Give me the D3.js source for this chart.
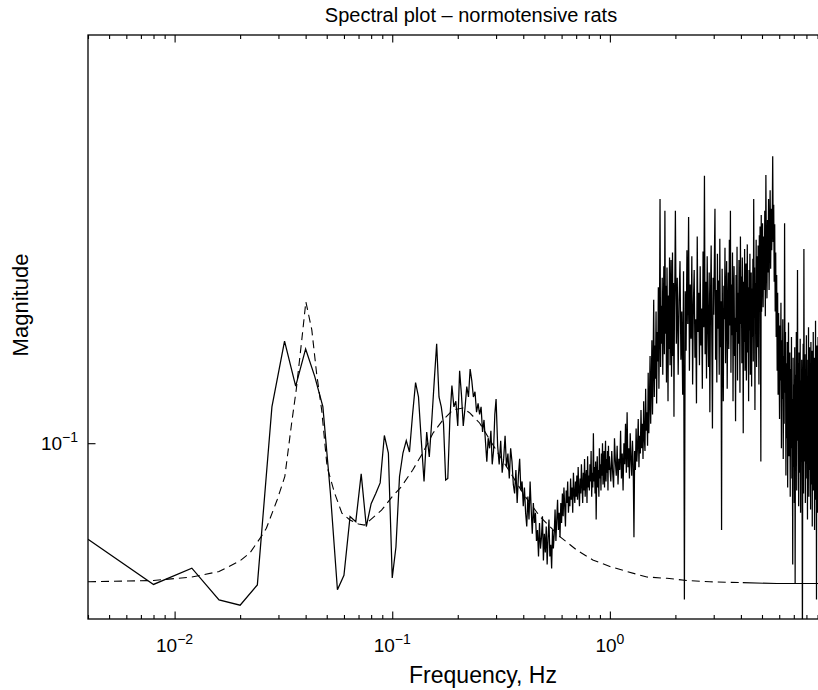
<!DOCTYPE html>
<html>
<head>
<meta charset="utf-8">
<script src="https://cdn.jsdelivr.net/npm/d3@7"></script>
<style>
  body { margin: 0; background: #fff; }
  svg { display: block; font-family: "Liberation Sans", Arial, Helvetica, sans-serif; }
</style>
</head>
<body>
<svg id="chart"></svg>
<script>
const W = 818, H = 690;

// measured spectrum, regular frequency grid in pieces (start Hz, step Hz, magnitudes)
const lowStart = 0.004, lowStep = 0.004;
const lowMag = [
  0.0685,0.0573,0.0611,0.0539,0.0528,0.0572,0.1154,0.1496,0.1252,0.1450,
  0.1303,0.1155,0.0820,0.0561,0.0594,0.0749,0.0734,0.0886,0.0720,0.0788,
  0.0820,0.0855,0.1031,0.0962,0.0588,0.0664,0.0877,0.0962,0.1010,0.0966,
  0.1120,0.1270,0.1200,0.1010,0.0860,0.1045,0.0947,0.1096,0.1280,0.1480,
  0.1200,0.1154,0.1080,0.0865,0.0870,0.1100,0.1255,0.1154,0.1180,0.1070,
  0.1330,0.1210,0.1070,0.1150,0.1250,0.1200,0.1340,0.1280,0.1200,0.1225,
  0.1130,0.1170,0.1120,0.1154,0.1045,0.1096,0.1010,0.0930,0.1020,0.0980,
  0.1050,0.0920,0.0970,0.1120,0.1190];
const midStart = 0.305, midStep = 0.005;
const midMag = [
  0.099,0.092,0.101,0.089,0.094,0.103,0.091,0.096,0.087,0.098,
  0.093,0.085,0.082,0.090,0.079,0.088,0.094,0.083,0.086,0.078,
  0.084,0.076,0.072,0.081,0.074,0.086,0.077,0.070,0.079,0.073,
  0.076,0.068,0.071,0.064,0.073,0.066,0.069,0.075,0.063,0.070,
  0.065,0.072,0.062,0.069,0.074,0.064,0.067,0.061,0.071,0.066,
  0.070,0.077,0.068,0.074,0.080,0.071,0.076,0.069,0.079,0.073,
  0.082,0.075,0.084,0.078,0.072,0.083,0.079,0.086,0.076,0.081,
  0.078,0.087,0.080,0.084,0.076,0.089,0.082,0.079,0.086,0.081,
  0.088,0.080,0.091,0.083,0.078,0.087,0.082,0.092,0.085,0.079,
  0.089,0.083,0.094,0.081,0.087,0.090,0.079,0.095,0.084,0.088,
  0.083,0.092,0.086,0.097,0.081,0.089,0.084,0.104,0.086,0.091,
  0.082,0.093,0.074,0.088,0.095,0.084,0.090,0.081,0.098,0.087,
  0.092,0.083,0.096,0.088,0.100,0.085,0.091,0.097,0.084,0.093,
  0.101,0.086,0.094,0.089,0.097,0.083,0.099,0.090,0.095];
const hiStart = 1.0, hiStep = 0.01;
const hiMag = [
  0.091,0.086,0.097,0.089,0.084,0.102,0.093,0.088,0.099,0.085,
  0.094,0.090,0.105,0.087,0.096,0.083,0.100,0.092,0.108,0.089,
  0.113,0.091,0.098,0.087,0.104,0.094,0.088,0.101,0.092,0.069,
  0.097,0.090,0.106,0.093,0.099,0.110,0.091,0.103,0.096,0.114,
  0.098,0.108,0.094,0.118,0.102,0.097,0.124,0.105,0.113,0.099,
  0.132,0.104,0.118,0.141,0.108,0.126,0.150,0.112,0.135,0.176,
  0.120,0.147,0.129,0.168,0.117,0.155,0.138,0.185,0.124,0.160,
  0.262,0.135,0.172,0.148,0.192,0.131,0.166,0.201,0.142,0.250,
  0.154,0.186,0.127,0.200,0.161,0.118,0.179,0.145,0.208,0.136,
  0.173,0.206,0.130,0.158,0.212,0.141,0.188,0.111,0.169,0.195];
const topStart = 2.0, topStep = 0.02;
const topMag = [
  0.250,0.148,0.192,0.131,0.176,0.205,0.139,0.168,0.121,0.197,
  0.054,0.182,0.144,0.214,0.160,0.244,0.133,0.187,0.151,0.209,
  0.126,0.174,0.198,0.140,0.163,0.117,0.226,0.155,0.181,0.136,
  0.201,0.147,0.170,0.124,0.213,0.158,0.287,0.142,0.189,0.129,
  0.209,0.161,0.135,0.196,0.113,0.178,0.218,0.150,0.106,0.192,
  0.166,0.204,0.252,0.139,0.183,0.127,0.211,0.157,0.190,0.131,
  0.224,0.146,0.175,0.071,0.199,0.152,0.118,0.186,0.163,0.216,
  0.137,0.179,0.205,0.124,0.168,0.196,0.145,0.223,0.159,0.250,
  0.132,0.187,0.153,0.212,0.118,0.176,0.201,0.141,0.164,0.109,
  0.194,0.155,0.217,0.128,0.181,0.148,0.206,0.170,0.122,0.226,
  0.160,0.193,0.137,0.208,0.175,0.104,0.189,0.149,0.215,0.133,
  0.178,0.203,0.128,0.167,0.219,0.143,0.185,0.118,0.198,0.156,
  0.211,0.131,0.177,0.196,0.125,0.184,0.152,0.207,0.138,0.262,
  0.171,0.200,0.114,0.188,0.158,0.223,0.135,0.182,0.209,0.146,
  0.218,0.162,0.126,0.227,0.175,0.235,0.152,0.093,0.246,0.168];
const endStart = 5.0, endStep = 0.03;
const endMag = [
  0.192,0.238,0.171,0.226,0.183,0.250,0.165,0.288,0.204,0.177,
  0.241,0.196,0.262,0.183,0.228,0.271,0.199,0.252,0.214,0.235,
  0.310,0.221,0.256,0.189,0.237,0.168,0.212,0.152,0.194,0.133,
  0.181,0.121,0.167,0.142,0.110,0.159,0.128,0.174,0.098,0.150,
  0.119,0.163,0.094,0.141,0.108,0.238,0.122,0.155,0.088,0.137,
  0.102,0.149,0.084,0.128,0.161,0.095,0.117,0.143,0.081,0.134,
  0.098,0.152,0.087,0.119,0.062,0.140,0.091,0.126,0.079,0.146,
  0.0575,0.131,0.094,0.155,0.083,0.122,0.198,0.101,0.137,0.078,
  0.143,0.089,0.116,0.151,0.076,0.128,0.097,0.139,0.085,0.045,
  0.124,0.148,0.082,0.215,0.110,0.093,0.142,0.079,0.130,0.105,
  0.153,0.087,0.121,0.074,0.139,0.096,0.158,0.081,0.114,0.146,
  0.090,0.131,0.077,0.149,0.103,0.085,0.144,0.072,0.127,0.098,
  0.155,0.083,0.118,0.140,0.071,0.132,0.094,0.162,0.080,0.123,
  0.054,0.147,0.089,0.135,0.076,0.152,0.099,0.128];

// model fit (dashed)
const fitFreq = [0.004,0.008,0.012,0.016,0.020,0.0222,0.0252,0.0264,0.0296,0.0321,
  0.0345,0.0362,0.0384,0.0401,0.0427,0.0449,0.0474,0.0502,0.0543,0.0587,
  0.0639,0.0700,0.0745,0.0893,0.100,0.110,0.124,0.138,0.154,0.171,
  0.190,0.211,0.227,0.252,0.281,0.306,0.347,0.406,0.477,0.589,
  0.705,0.835,1.0,1.197,1.479,1.83,2.26,2.88,4.08,5.85,12.5];
const fitMag = [0.0579,0.0582,0.0590,0.0603,0.0629,0.0649,0.0695,0.0715,0.0800,0.0877,
  0.1083,0.1233,0.1503,0.1747,0.1563,0.1319,0.1140,0.0911,0.0822,0.0759,
  0.0739,0.0727,0.0724,0.0768,0.0810,0.0842,0.0899,0.0962,0.1041,0.1096,
  0.1140,0.1149,0.1127,0.1083,0.1013,0.0962,0.0893,0.0813,0.0749,0.0692,
  0.0656,0.0631,0.0615,0.0603,0.0590,0.0587,0.0582,0.0579,0.0577,0.0575,0.0575];

const xDomain = [0.004, 12.5], yDomain = [0.05, 0.5];
const xLabelExp = [-2, -1, 0];
const yLabelExp = [-1];

const L = 88, T = 35, B = 619, R = 848.6;

const svg = d3.select("#chart").attr("width", W).attr("height", H);
const x = d3.scaleLog().domain(xDomain).range([L, R]);
const y = d3.scaleLog().domain(yDomain).range([B, T]);

// assemble spectrum points
const pieces = [[lowStart, lowStep, lowMag], [midStart, midStep, midMag],
  [hiStart, hiStep, hiMag], [topStart, topStep, topMag], [endStart, endStep, endMag]];
const spec = pieces.flatMap(([s, st, m]) => m.map((v, i) => [s + i * st, v]));
const fit = fitFreq.map((f, i) => [f, fitMag[i]]);

svg.append("defs").append("clipPath").attr("id", "clip")
  .append("rect").attr("x", L).attr("y", T).attr("width", R - L).attr("height", B - T);

const line = d3.line().x(d => x(d[0])).y(d => y(d[1]));
const plot = svg.append("g").attr("clip-path", "url(#clip)");

// dash pattern collapses to a solid line where the fit is densely sampled
plot.append("path").datum(fit.filter(d => d[0] <= 4.08)).attr("d", line)
  .attr("fill", "none").attr("stroke", "#000").attr("stroke-width", 1.1)
  .attr("stroke-dasharray", "8,5");
plot.append("path").datum(fit.filter(d => d[0] >= 4.08)).attr("d", line)
  .attr("fill", "none").attr("stroke", "#000").attr("stroke-width", 1.1);
plot.append("path").datum(spec).attr("d", line)
  .attr("fill", "none").attr("stroke", "#000").attr("stroke-width", 1.25)
  .attr("stroke-linejoin", "miter");

// ticks (inward, on all four sides)
const allT = x.ticks();
const major = allT.filter(d => Math.abs(Math.log10(d) - Math.round(Math.log10(d))) < 1e-9);
const minor = allT.filter(d => !major.includes(d));
const yMajor = yLabelExp.map(e => Math.pow(10, e));
const axG = svg.append("g");
const noDomain = sel => sel.select(".domain").remove();
axG.append("g").attr("transform", `translate(0,${B})`)
  .call(d3.axisBottom(x).tickValues(minor).tickSize(-4).tickFormat("")).call(noDomain);
axG.append("g").attr("transform", `translate(0,${B})`)
  .call(d3.axisBottom(x).tickValues(major).tickSize(-7.5).tickFormat("")).call(noDomain);
axG.append("g").attr("transform", `translate(0,${T})`)
  .call(d3.axisTop(x).tickValues(minor).tickSize(-4).tickFormat("")).call(noDomain);
axG.append("g").attr("transform", `translate(0,${T})`)
  .call(d3.axisTop(x).tickValues(major).tickSize(-7.5).tickFormat("")).call(noDomain);
axG.append("g").attr("transform", `translate(${L},0)`)
  .call(d3.axisLeft(y).tickValues(yMajor).tickSize(-7.5).tickFormat("")).call(noDomain);
axG.append("g").attr("transform", `translate(${R},0)`)
  .call(d3.axisRight(y).tickValues(yMajor).tickSize(-7.5).tickFormat("")).call(noDomain);
axG.selectAll("line").attr("stroke", "#000").attr("stroke-width", 1.1);

svg.append("rect").attr("x", L).attr("y", T).attr("width", R - L).attr("height", B - T)
  .attr("fill", "none").attr("stroke", "#000").attr("stroke-width", 1.3);

// power-of-ten labels
const pow = sel => {
  sel.append("tspan").text("10");
  sel.append("tspan").attr("dy", -8).attr("font-size", 14)
    .text(d => d < 0 ? "\u2212" + Math.abs(d) : d);
};
svg.append("g").selectAll("text").data(xLabelExp).join("text")
  .attr("x", d => x(Math.pow(10, d))).attr("y", 652)
  .attr("text-anchor", "middle").attr("font-size", 19).attr("fill", "#000")
  .call(pow);
svg.append("g").selectAll("text").data(yLabelExp).join("text")
  .attr("x", 78).attr("y", d => y(Math.pow(10, d)) + 7)
  .attr("text-anchor", "end").attr("font-size", 19).attr("fill", "#000")
  .call(pow);

svg.append("text").attr("x", 471).attr("y", 22).attr("text-anchor", "middle")
  .attr("font-size", 20).text("Spectral plot \u2013 normotensive rats");
svg.append("text").attr("x", 483).attr("y", 683).attr("text-anchor", "middle")
  .attr("font-size", 23).text("Frequency, Hz");
svg.append("text").attr("transform", "translate(28,305) rotate(-90)").attr("text-anchor", "middle")
  .attr("font-size", 22).text("Magnitude");
</script>
</body>
</html>
